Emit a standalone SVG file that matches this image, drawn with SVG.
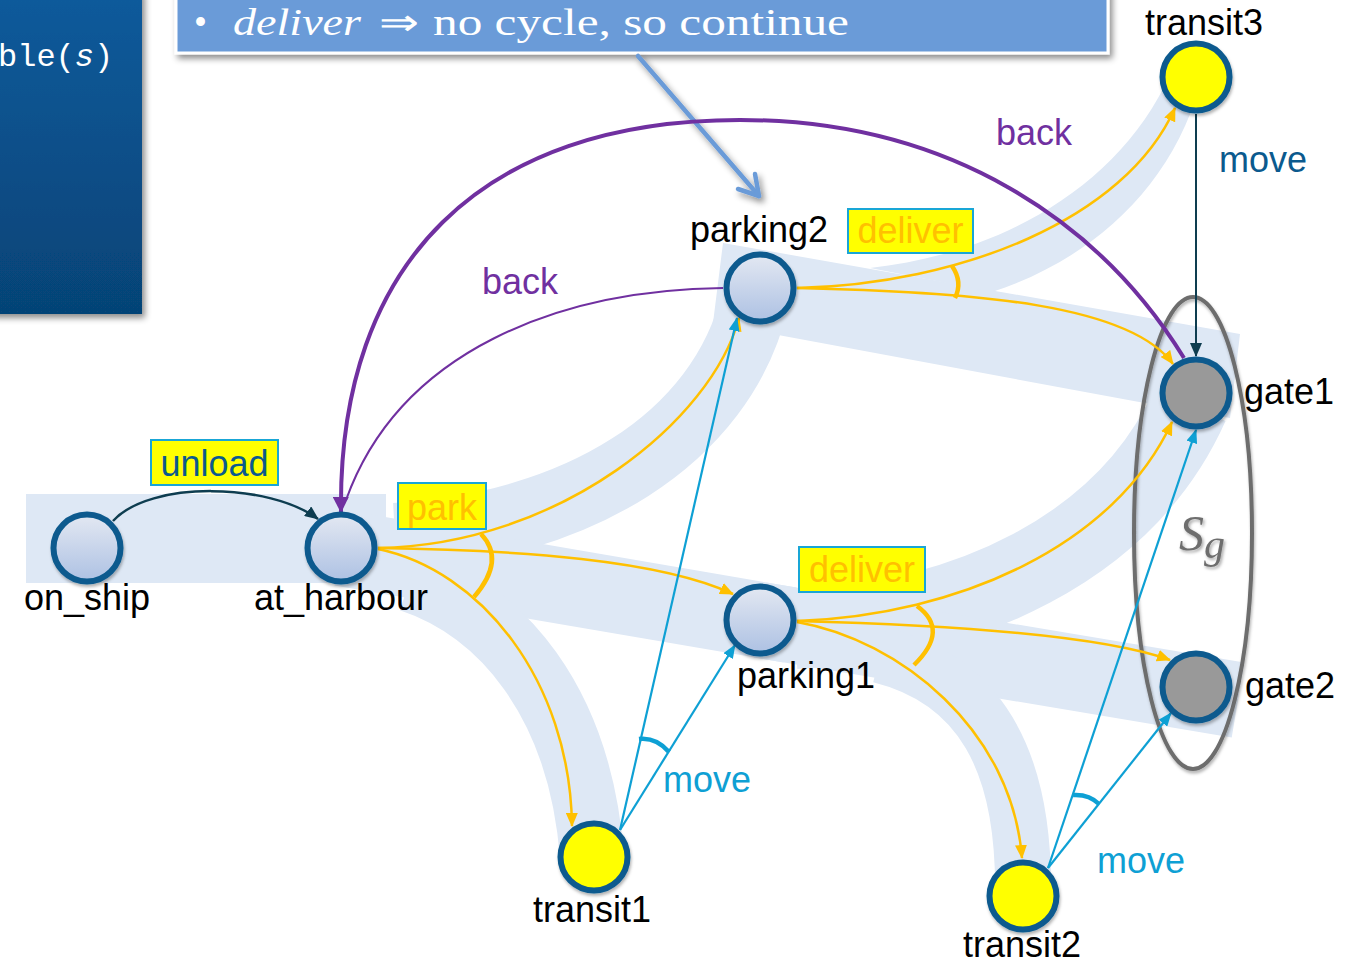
<svg xmlns="http://www.w3.org/2000/svg" width="1360" height="964" viewBox="0 0 1360 964">
  <defs>
    <style>
      .band { fill: #dee8f5; }
      .bandS { fill: none; stroke: #dee8f5; stroke-linecap: butt; }
      .lbl { font-family: "Liberation Sans", Arial, sans-serif; font-size: 36px; fill: #000; }
      .st { stroke: #0b5a8e; stroke-width: 6; }
      .plain { fill: url(#nodeGrad); }
      .transit { fill: #ffff00; }
      .gate { fill: #999999; }
      .o { fill: none; stroke: #ffc000; stroke-width: 2.5; marker-end: url(#arrO); }
      .b { fill: none; stroke: #0ea0d4; stroke-width: 2.2; marker-end: url(#arrB); }
      .oarc { fill: none; stroke: #ffc000; stroke-width: 4.5; }
      .barc { fill: none; stroke: #0ea0d4; stroke-width: 4.5; }
      .box { stroke: #19a6d6; stroke-width: 2; fill: #ffff00; }
      .act { font-family: "Liberation Sans", Arial, sans-serif; font-size: 36px; text-anchor: middle; fill: #ffc000; }
    </style>
    <linearGradient id="nodeGrad" x1="0" y1="0" x2="0" y2="1">
      <stop offset="0" stop-color="#e3e8f2"/>
      <stop offset="1" stop-color="#adc1e3"/>
    </linearGradient>
    <linearGradient id="panelGrad" x1="0" y1="0" x2="0" y2="1">
      <stop offset="0" stop-color="#0b5b9c"/>
      <stop offset="1" stop-color="#064376"/>
    </linearGradient>
    <filter id="shadow" x="-10%" y="-10%" width="125%" height="130%">
      <feDropShadow dx="3" dy="4" stdDeviation="3" flood-color="#000" flood-opacity="0.45"/>
    </filter>
    <filter id="nshadow" x="-30%" y="-30%" width="160%" height="170%">
      <feDropShadow dx="1" dy="2.5" stdDeviation="1.8" flood-color="#000" flood-opacity="0.3"/>
    </filter>
    <filter id="tshadow" x="-30%" y="-30%" width="160%" height="160%">
      <feDropShadow dx="1.5" dy="2" stdDeviation="1.5" flood-color="#000" flood-opacity="0.35"/>
    </filter>
    <marker id="arrO" markerUnits="userSpaceOnUse" viewBox="0 0 14 12" refX="13" refY="6" markerWidth="14" markerHeight="12" orient="auto">
      <path d="M0,0 L14,6 L0,12 z" fill="#ffc000"/>
    </marker>
    <marker id="arrB" markerUnits="userSpaceOnUse" viewBox="0 0 14 11" refX="13" refY="5.5" markerWidth="14" markerHeight="11" orient="auto">
      <path d="M0,0 L14,5.5 L0,11 z" fill="#0ea0d4"/>
    </marker>
    <marker id="arrP" markerUnits="userSpaceOnUse" viewBox="0 0 16 16" refX="15" refY="8" markerWidth="16" markerHeight="16" orient="auto">
      <path d="M0,0 L16,8 L0,16 z" fill="#7030a0"/>
    </marker>
    <marker id="arrT" markerUnits="userSpaceOnUse" viewBox="0 0 14 12" refX="13" refY="6" markerWidth="14" markerHeight="12" orient="auto">
      <path d="M0,0 L14,6 L0,12 z" fill="#0e3d50"/>
    </marker>
  </defs>

  <rect width="1360" height="964" fill="#ffffff"/>

  <!-- pale highlight bands behind the reachable paths -->
  <g id="bands">
    <rect class="band" x="26" y="494" width="360" height="89"/>
    <path class="bandS" stroke-width="68" d="M 395 537 C 575 527, 722 440, 755 300"/>
    <path class="bandS" stroke-width="76" d="M 341 548 L 790 625"/>
    <path class="bandS" stroke-width="64" d="M 410 580 C 500 610, 580 700, 592 857"/>
    <path class="band" d="M 723 243 L 1240 334 L 1230 418 L 1150 404 L 713 323 Z"/>
    <path class="band" d="M 870 268 C 990 255, 1110 195, 1165 85 L 1200 85 C 1170 190, 1090 260, 992 292 Z"/>
    <path class="bandS" stroke-width="78" d="M 795 630 C 965 620, 1125 550, 1190 405"/>
    <path class="bandS" stroke-width="76" d="M 760 620 L 1238 700"/>
    <path class="bandS" stroke-width="56" d="M 880 655 C 980 680, 1025 760, 1023 895"/>
  </g>

  <!-- code panel at the top left -->
  <g id="code-panel">
    <rect x="-10" y="-10" width="152" height="324" fill="url(#panelGrad)" filter="url(#shadow)"/>
    <text x="-2" y="66" font-family="'Liberation Mono', 'Courier New', monospace" font-size="32" fill="#ffffff">ble(<tspan font-style="italic">s</tspan>)</text>
  </g>

  <!-- callout note -->
  <g id="callout">
    <rect x="176" y="-10" width="932" height="63" fill="#6a9bd8" stroke="#ffffff" stroke-width="3" filter="url(#shadow)"/>
    <text y="35" font-family="'Liberation Serif', 'Times New Roman', serif" font-size="37" fill="#ffffff">
      <tspan x="194">•</tspan>
      <tspan x="233" font-style="italic" textLength="128" lengthAdjust="spacingAndGlyphs">deliver</tspan>
      <tspan x="379" textLength="40" lengthAdjust="spacingAndGlyphs">⇒</tspan>
      <tspan x="433" textLength="416" lengthAdjust="spacingAndGlyphs">no cycle, so continue</tspan>
    </text>
    <g filter="url(#shadow)" stroke="#6a9bd8" stroke-width="4.5" fill="none" stroke-linecap="round" stroke-linejoin="round">
      <line x1="638" y1="56" x2="759" y2="196"/>
      <polyline points="738,189 759,196 755,174"/>
    </g>
  </g>

  <!-- goal set -->
  <g id="goal-set">
    <ellipse cx="1193" cy="533" rx="59" ry="236" fill="none" stroke="#6d6d6d" stroke-width="4" filter="url(#nshadow)"/>
    <text x="1179" y="550" font-family="'Liberation Serif', 'Times New Roman', serif" font-style="italic" font-size="50" fill="#6e6e6e" filter="url(#tshadow)">S<tspan font-size="42" dy="8">g</tspan></text>
  </g>

  <!-- transitions -->
  <g id="connectors">
    <!-- park -->
    <path class="o" d="M 378 548 C 560 545, 712 420, 739 318"/>
    <path class="o" d="M 378 548 C 520 550, 660 560, 733 594"/>
    <path class="o" d="M 378 549 C 480 570, 570 680, 572 826"/>
    <path class="oarc" d="M 481 534 Q 506 560 474 597"/>
    <!-- deliver from parking2 -->
    <path class="o" d="M 797 288 C 960 284, 1125 220, 1175 108"/>
    <path class="o" d="M 797 288 C 980 292, 1130 305, 1173 364"/>
    <path class="oarc" d="M 952 266 Q 963 282 955 298"/>
    <!-- deliver from parking1 -->
    <path class="o" d="M 797 621 C 960 615, 1115 545, 1172 422"/>
    <path class="o" d="M 797 621 C 950 625, 1100 635, 1170 660"/>
    <path class="o" d="M 797 622 C 900 640, 1012 730, 1022 858"/>
    <path class="oarc" d="M 917 606 Q 950 630 914 665"/>
    <!-- move from transit1 -->
    <path class="b" d="M 620 830 L 737 318"/>
    <path class="b" d="M 620 830 L 735 645"/>
    <path class="barc" d="M 639 739 Q 656 737 669 752"/>
    <!-- move from transit2 -->
    <path class="b" d="M 1048 868 L 1196 430"/>
    <path class="b" d="M 1048 868 L 1171 713"/>
    <path class="barc" d="M 1073 795 Q 1089 794 1099 804"/>
    <!-- move from transit3 -->
    <path d="M 1196 114 L 1196 356" fill="none" stroke="#0e3d50" stroke-width="2" marker-end="url(#arrT)"/>
    <!-- unload -->
    <path d="M 113 521 C 150 480, 270 483, 318 519" fill="none" stroke="#0e3d50" stroke-width="2.5" marker-end="url(#arrT)"/>
    <!-- back -->
    <path d="M 723 288 C 560 290, 400 350, 346 500" fill="none" stroke="#7030a0" stroke-width="2"/>
    <path d="M 1184 358 C 1100 222, 950 120, 740 120 C 482 120, 338 262, 341 512" fill="none" stroke="#7030a0" stroke-width="4" marker-end="url(#arrP)"/>
  </g>

  <!-- transition labels -->
  <g id="edge-labels">
    <rect class="box" x="151" y="440" width="127" height="45"/>
    <text class="act" x="214.5" y="476" style="fill:#0b5a8e">unload</text>
    <rect class="box" x="398" y="483" width="88" height="46"/>
    <text class="act" x="442" y="520">park</text>
    <rect class="box" x="848" y="209" width="125" height="44"/>
    <text class="act" x="910.5" y="243">deliver</text>
    <rect class="box" x="799" y="547" width="126" height="45"/>
    <text class="act" x="862" y="582">deliver</text>
    <text class="lbl" x="996" y="145" style="fill:#7030a0">back</text>
    <text class="lbl" x="482" y="294" style="fill:#7030a0">back</text>
    <text class="lbl" x="1219" y="172" style="fill:#0b5a8e">move</text>
    <text class="lbl" x="663" y="792" style="fill:#0ea0d4">move</text>
    <text class="lbl" x="1097" y="873" style="fill:#0ea0d4">move</text>
  </g>

  <!-- states -->
  <g id="on_ship">
    <circle class="st plain" cx="87" cy="548" r="33.5" filter="url(#nshadow)"/>
    <text class="lbl" x="87" y="610" text-anchor="middle">on_ship</text>
  </g>
  <g id="at_harbour">
    <circle class="st plain" cx="341" cy="548" r="33.5" filter="url(#nshadow)"/>
    <text class="lbl" x="341" y="610" text-anchor="middle">at_harbour</text>
  </g>
  <g id="parking2">
    <circle class="st plain" cx="760" cy="288" r="33.5" filter="url(#nshadow)"/>
    <text class="lbl" x="759" y="242" text-anchor="middle">parking2</text>
  </g>
  <g id="parking1">
    <circle class="st plain" cx="760" cy="620" r="33.5" filter="url(#nshadow)"/>
    <text class="lbl" x="737" y="688">parking1</text>
  </g>
  <g id="transit1">
    <circle class="st transit" cx="594" cy="857" r="33.5" filter="url(#nshadow)"/>
    <text class="lbl" x="592" y="922" text-anchor="middle">transit1</text>
  </g>
  <g id="transit2">
    <circle class="st transit" cx="1023" cy="896" r="33.5" filter="url(#nshadow)"/>
    <text class="lbl" x="1022" y="957" text-anchor="middle">transit2</text>
  </g>
  <g id="transit3">
    <circle class="st transit" cx="1196" cy="77" r="33.5" filter="url(#nshadow)"/>
    <text class="lbl" x="1204" y="35" text-anchor="middle">transit3</text>
  </g>
  <g id="gate1">
    <circle class="st gate" cx="1196" cy="393" r="33.5" filter="url(#nshadow)"/>
    <text class="lbl" x="1244" y="404">gate1</text>
  </g>
  <g id="gate2">
    <circle class="st gate" cx="1196" cy="687" r="33.5" filter="url(#nshadow)"/>
    <text class="lbl" x="1245" y="698">gate2</text>
  </g>
</svg>
